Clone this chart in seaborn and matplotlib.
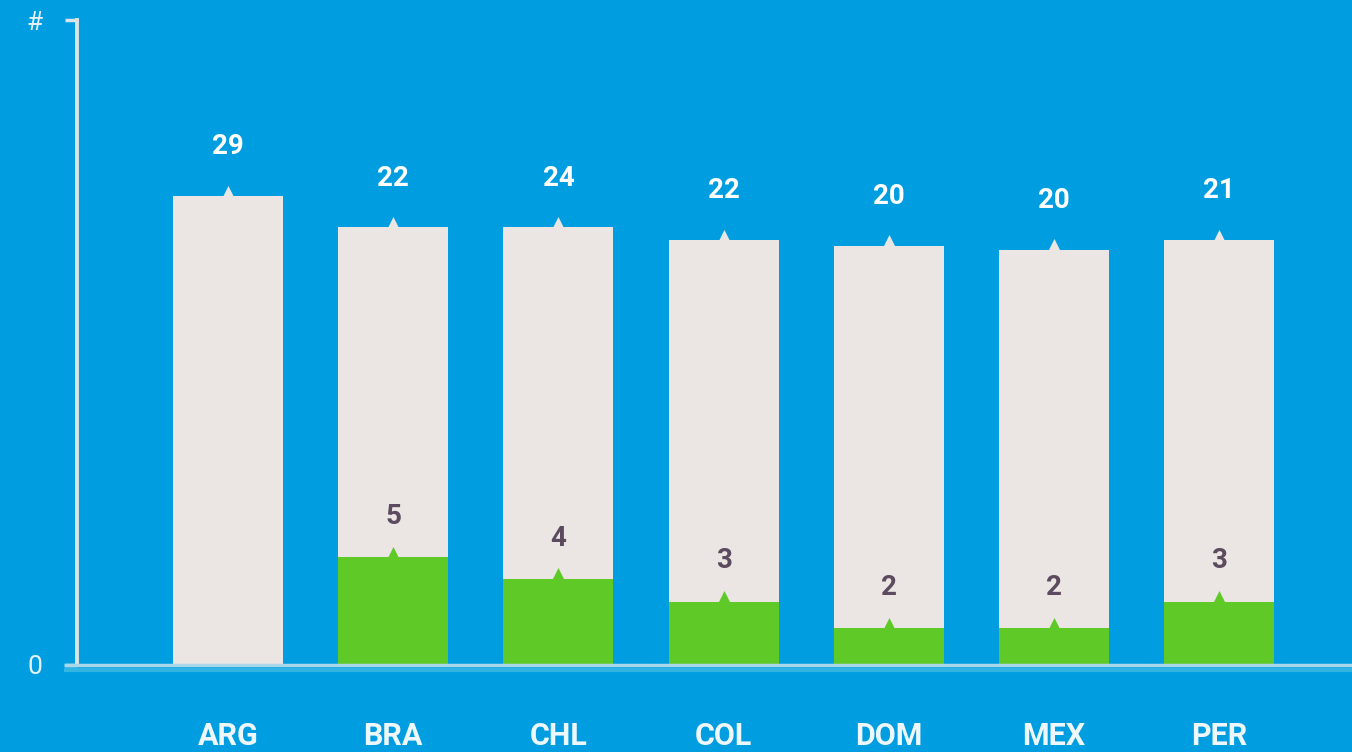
import numpy as np
import pandas as pd
import matplotlib
matplotlib.use('Agg')
import matplotlib.pyplot as plt
import matplotlib.transforms as mtransforms
import seaborn as sns

# chart values
countries = ['ARG', 'BRA', 'CHL', 'COL', 'DOM', 'MEX', 'PER']
total_height = [21.8, 20.35, 20.35, 19.75, 19.5, 19.3, 19.75]
total_labels = ['29', '22', '24', '22', '20', '20', '21']
part_height = [np.nan, 5.0, 4.0, 2.95, 1.7, 1.7, 2.95]
part_labels = ['', '5', '4', '3', '2', '2', '3']
y_top = 30

BG = '#009ee0'
GREY = '#ebe6e4'
GREEN = '#5fc927'

sns.set_theme(style='white')
plt.rcParams['font.family'] = ['Roboto', 'DejaVu Sans']

df = pd.DataFrame({'country': countries, 'total': total_height, 'part': part_height})

fig = plt.figure(figsize=(13.52, 7.52), dpi=100, facecolor=BG)
ax = fig.add_axes([0.057, 0.1157, 0.943, 0.8577])
ax.set_facecolor(BG)

sns.barplot(data=df, x='country', y='total', color=GREY, width=0.666,
            saturation=1, linewidth=0, ax=ax, zorder=2)
sns.barplot(data=df, x='country', y='part', color=GREEN, width=0.666,
            saturation=1, linewidth=0, ax=ax, zorder=3)

pos = np.arange(len(countries))
# small triangles on top of each bar
ax.scatter(pos, df['total'] + 0.12, marker='^', s=150, color=GREY, zorder=4,
           clip_on=False, linewidths=0)
ax.scatter(pos, df['part'] + 0.12, marker='^', s=150, color=GREEN, zorder=4,
           clip_on=False, linewidths=0)

for i in range(len(countries)):
    ax.text(pos[i], df['total'][i] + 2.3, total_labels[i], ha='center', va='center',
            color='white', fontsize=20, fontweight='bold', zorder=5)
    if part_labels[i]:
        ax.text(pos[i], df['part'][i] + 1.9, part_labels[i], ha='center', va='center',
                color='#5c4b5e', fontsize=20, fontweight='bold', zorder=5)

ax.set_xlim(-0.914, 6.804)
ax.set_ylim(0, y_top)
ax.set_xlabel('')
ax.set_ylabel('')

for s in ['top', 'right', 'bottom']:
    ax.spines[s].set_visible(False)
ax.spines['left'].set_color('#dde3e6')
ax.spines['left'].set_linewidth(2.8)
ax.spines['left'].set_zorder(1)

ax.set_yticks([0, y_top])
ax.set_yticklabels(['0', '#'])
ax.tick_params(axis='y', length=9, width=2.5, color='#dde3e6', labelcolor='#e6f2f8',
               labelsize=19, pad=16, left=True)
ax.set_xticks(pos)
ax.set_xticklabels(countries)
ax.tick_params(axis='x', length=0, pad=40, labelcolor='#eef7fb', labelsize=22)
for lab in ax.get_xticklabels():
    lab.set_fontweight('bold')

# baseline across the full width
trans = mtransforms.blended_transform_factory(ax.transAxes, ax.transData)
ax.plot([-0.01, 1.0], [0, 0], transform=trans, color='#a9d8ea', lw=2.5,
        clip_on=False, zorder=6, solid_capstyle='butt')
ax.plot([-0.01, 1.0], [-0.25, -0.25], transform=trans, color='#33b5e3', lw=3,
        clip_on=False, zorder=6, solid_capstyle='butt')

fig.savefig('out.png', dpi=100, facecolor=BG)
